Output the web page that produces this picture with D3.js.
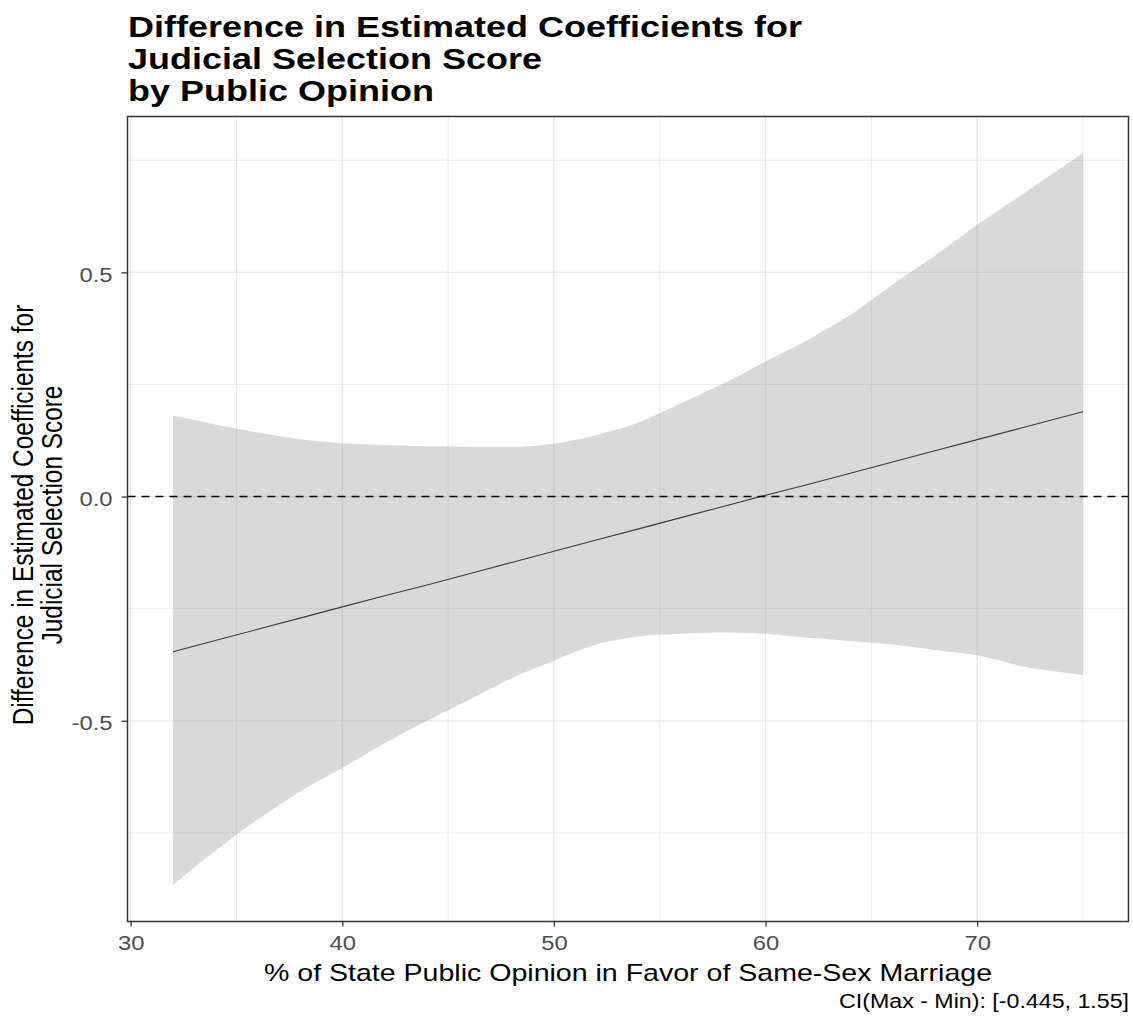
<!DOCTYPE html>
<html>
<head>
<meta charset="utf-8">
<script src="https://cdn.jsdelivr.net/npm/d3@7"></script>
<style>
  html, body { margin: 0; padding: 0; background: #ffffff; }
  svg { display: block; font-family: "Liberation Sans", Arial, sans-serif; }
</style>
</head>
<body>
<svg id="chart" width="1133" height="1021"></svg>
<script>
// Public opinion values (% in favour) at which the difference was evaluated
const opinion = [32, 34, 36, 38, 40, 42, 44, 46, 48, 50, 52, 54, 56, 58, 60, 62, 64, 66, 68, 70, 72, 74, 75];
// Estimated difference in coefficients
const estimate = [-0.346, -0.321, -0.296, -0.271, -0.246, -0.221, -0.197, -0.172, -0.147, -0.122, -0.097, -0.072,
                  -0.047, -0.022, 0.003, 0.027, 0.052, 0.077, 0.102, 0.127, 0.152, 0.177, 0.189];
// Confidence band
const ciUpper = [0.180, 0.161, 0.143, 0.128, 0.119, 0.115, 0.112, 0.111, 0.111, 0.118, 0.137, 0.165,
                 0.208, 0.252, 0.301, 0.350, 0.405, 0.473, 0.537, 0.606, 0.670, 0.734, 0.766];
const ciLower = [-0.866, -0.790, -0.720, -0.658, -0.605, -0.550, -0.500, -0.453, -0.405, -0.366, -0.330, -0.312,
                 -0.306, -0.303, -0.306, -0.315, -0.322, -0.330, -0.342, -0.354, -0.377, -0.392, -0.398];

const xMajor = [30, 40, 50, 60, 70];
const xMinor = [35, 45, 55, 65, 75];
const yMajor = [-0.5, 0.0, 0.5];
const yMinor = [-0.75, -0.25, 0.25, 0.75];

const titleLines = ["Difference in Estimated Coefficients for", "Judicial Selection Score", "by Public Opinion"];
const yTitleLines = ["Difference in Estimated Coefficients for", "Judicial Selection Score"];
const xTitle = "% of State Public Opinion in Favor of Same-Sex Marriage";
const caption = "CI(Max - Min): [-0.445, 1.55]";

const rows = opinion.map((x, i) => ({ x, est: estimate[i], lo: ciLower[i], hi: ciUpper[i] }));

const panel = { left: 127.5, right: 1128.5, top: 116.5, bottom: 921.5 };
const SX = 1.19;   // horizontal stretch of the lettering

// continuous scales padded by 5% of the data range on each side
function padded(lo, hi) { const d = (hi - lo) * 0.05; return [lo - d, hi + d]; }
const xExt = d3.extent(opinion);
const yExt = [d3.min(ciLower), d3.max(ciUpper)];
const x = d3.scaleLinear().domain(padded(xExt[0], xExt[1])).range([panel.left, panel.right]);
const y = d3.scaleLinear().domain(padded(yExt[0], yExt[1])).range([panel.bottom, panel.top]);

const svg = d3.select("#chart");
svg.append("rect").attr("width", 1133).attr("height", 1021).attr("fill", "#ffffff");

// grid
const grid = svg.append("g");
grid.selectAll(".gxm").data(xMinor).join("line")
  .attr("x1", d => x(d)).attr("x2", d => x(d)).attr("y1", panel.top).attr("y2", panel.bottom)
  .attr("stroke", "#ebebeb").attr("stroke-width", 1);
grid.selectAll(".gym").data(yMinor).join("line")
  .attr("y1", d => y(d)).attr("y2", d => y(d)).attr("x1", panel.left).attr("x2", panel.right)
  .attr("stroke", "#ebebeb").attr("stroke-width", 1);
grid.selectAll(".gxM").data(xMajor).join("line")
  .attr("x1", d => x(d)).attr("x2", d => x(d)).attr("y1", panel.top).attr("y2", panel.bottom)
  .attr("stroke", "#e6e6e6").attr("stroke-width", 1.3);
grid.selectAll(".gyM").data(yMajor).join("line")
  .attr("y1", d => y(d)).attr("y2", d => y(d)).attr("x1", panel.left).attr("x2", panel.right)
  .attr("stroke", "#e6e6e6").attr("stroke-width", 1.3);

// confidence ribbon
const band = d3.area().x(d => x(d.x)).y0(d => y(d.lo)).y1(d => y(d.hi)).curve(d3.curveMonotoneX);
svg.append("path").datum(rows).attr("d", band)
  .attr("fill", "#999999").attr("fill-opacity", 0.37);

// estimate line
const line = d3.line().x(d => x(d.x)).y(d => y(d.est));
svg.append("path").datum(rows).attr("d", line)
  .attr("fill", "none").attr("stroke", "#3a3a3a").attr("stroke-width", 1.1);

// reference line at zero
svg.append("line")
  .attr("x1", panel.left).attr("x2", panel.right).attr("y1", y(0)).attr("y2", y(0))
  .attr("stroke", "#000000").attr("stroke-width", 1.5).attr("stroke-dasharray", "8,6");

// panel border
svg.append("rect")
  .attr("x", panel.left).attr("y", panel.top)
  .attr("width", panel.right - panel.left).attr("height", panel.bottom - panel.top)
  .attr("fill", "none").attr("stroke", "#333333").attr("stroke-width", 1.5);

// axes
const xAxis = svg.append("g").attr("transform", `translate(0,${panel.bottom})`)
  .call(d3.axisBottom(x).tickValues(xMajor).tickFormat(d => d.toFixed(0)).tickSize(5).tickPadding(9));
const yAxis = svg.append("g").attr("transform", `translate(${panel.left},0)`)
  .call(d3.axisLeft(y).tickValues(yMajor).tickFormat(d => d.toFixed(1)).tickSize(6).tickPadding(9));
[xAxis, yAxis].forEach(a => {
  a.select(".domain").remove();
  a.selectAll(".tick line").attr("stroke", "#333333").attr("stroke-width", 1.3);
  a.selectAll(".tick text").attr("fill", "#4d4d4d").attr("font-size", 20)
    .attr("font-family", "'Liberation Sans', Arial, sans-serif");
});
xAxis.selectAll(".tick text").attr("transform", `scale(${SX},1)`);
yAxis.selectAll(".tick text").each(function () {
  const t = d3.select(this);
  const tx = +t.attr("x");
  t.attr("x", 0).attr("dy", "0.45em").attr("transform", `translate(${tx},0) scale(${SX},1)`);
});

// axis titles
svg.append("text")
  .attr("transform", `translate(${(panel.left + panel.right) / 2},981) scale(${SX},1)`)
  .attr("text-anchor", "middle").attr("font-size", 24).attr("fill", "#000")
  .text(xTitle);

const yT = svg.append("text")
  .attr("transform", `translate(0,515) scale(${SX},1) rotate(-90)`)
  .attr("text-anchor", "middle").attr("font-size", 24.4).attr("fill", "#000");
yT.selectAll("tspan").data(yTitleLines).join("tspan")
  .attr("x", 0).attr("y", (d, i) => 27.7 + i * 24.4).text(d => d);

// title
const t = svg.append("text").attr("font-size", 30).attr("font-weight", "bold").attr("fill", "#000")
  .attr("transform", `translate(128,0) scale(1.2,1)`);
t.selectAll("tspan").data(titleLines).join("tspan")
  .attr("x", 0).attr("y", (d, i) => 37 + i * 32).text(d => d);

// caption
svg.append("text")
  .attr("transform", `translate(1129,1008) scale(${SX},1)`).attr("text-anchor", "end")
  .attr("font-size", 19.5).attr("fill", "#000")
  .text(caption);
</script>
</body>
</html>
